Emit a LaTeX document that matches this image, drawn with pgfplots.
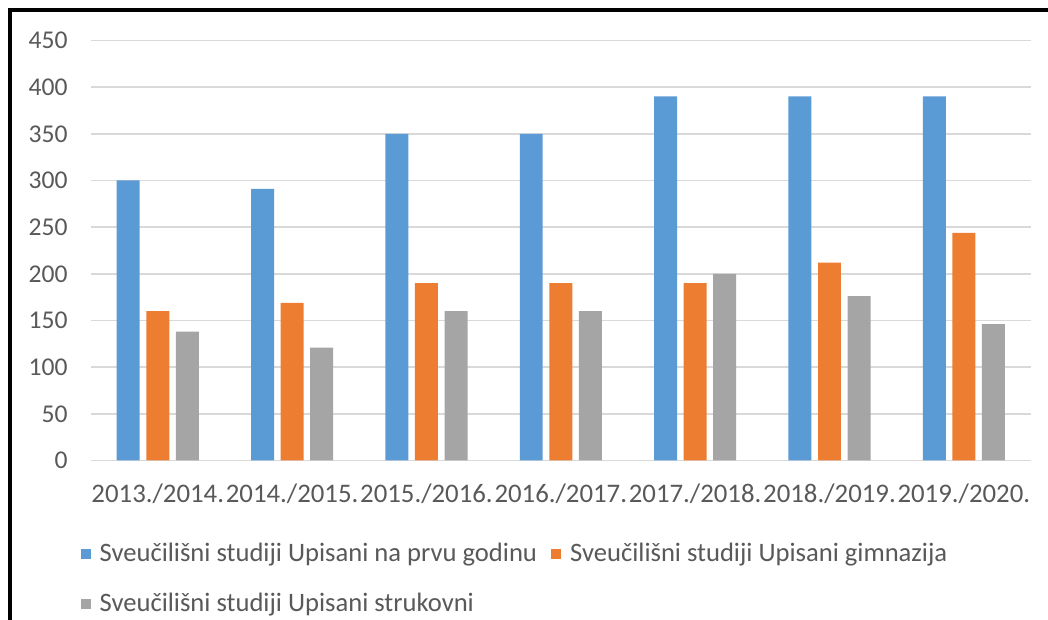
\documentclass[border=0pt]{standalone}
\usepackage{pgfplots}
\pgfplotsset{compat=1.18}
\usepackage{fontspec}
\setmainfont{Carlito}
\definecolor{cblue}{HTML}{5B9BD5}
\definecolor{corange}{HTML}{ED7D31}
\definecolor{cgray}{HTML}{A5A5A5}
\definecolor{ctext}{HTML}{595959}
\definecolor{cgrid}{HTML}{D9D9D9}
\begin{document}
\begin{tikzpicture}[x=1pt,y=1pt]
\useasboundingbox (0,0) rectangle (524,310);
\fill[white] (0,0) rectangle (524,310);
\draw[black, line width=1.6pt] (5,0) -- (5,305) -- (524,305);
\begin{axis}[
  at={(45.3pt,79.75pt)}, anchor=south west,
  scale only axis, width=470.2pt, height=210pt,
  xmin=-0.5, xmax=6.5, ymin=0, ymax=450,
  ytick={0,50,...,450},
  xtick=data,
  xticklabels={2013./2014.,2014./2015.,2015./2016.,2016./2017.,2017./2018.,2018./2019.,2019./2020.},
  axis line style={draw=none},
  major tick length=0pt,
  ymajorgrids, grid style={cgrid, line width=0.7pt},
  /pgf/number format/assume math mode=true,
  yticklabel style={font=\fontsize{12.8}{14}\selectfont, text=ctext, xshift=-8pt},
  xticklabel style={font=\fontsize{13.4}{15}\selectfont, text=ctext, yshift=-8pt},
  ybar, bar width=0.171,
  legend columns=2,
  legend style={draw=none, fill=none, font=\fontsize{13.3}{15}\selectfont, text=ctext,
    at={(axis description cs:-0.011,-0.2820)}, anchor=west,
    /tikz/every even column/.append style={column sep=5pt},
    /tikz/every odd column/.append style={column sep=2.5pt},
    row sep=10pt, inner sep=0pt},
  legend cell align=left,
  legend image code/.code={\fill[#1] (0pt,-2.5pt) rectangle (5pt,2.5pt);},
]
\addplot[fill=cblue, draw=none, bar shift=-0.22] coordinates {(0,300) (1,291) (2,350) (3,350) (4,390) (5,390) (6,390)};
\addplot[fill=corange, draw=none, bar shift=0] coordinates {(0,160) (1,169) (2,190) (3,190) (4,190) (5,212) (6,244)};
\addplot[fill=cgray, draw=none, bar shift=0.22] coordinates {(0,138) (1,121) (2,160) (3,160) (4,200) (5,176) (6,146)};
\legend{Sveučilišni studiji Upisani na prvu godinu, Sveučilišni studiji Upisani gimnazija, Sveučilišni studiji Upisani strukovni}
\end{axis}
\end{tikzpicture}
\end{document}
